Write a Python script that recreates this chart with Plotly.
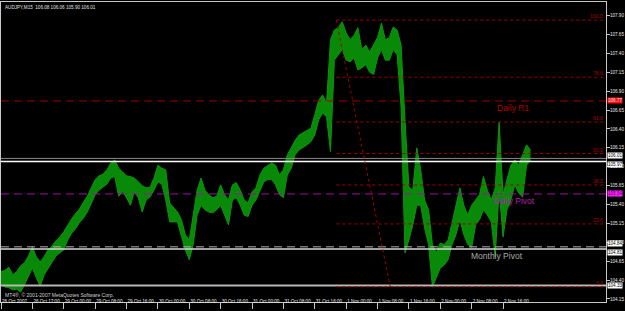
import plotly.graph_objects as go

# ---------------- data ----------------
# hourly high / low of AUDJPY (M15 chart, 4 bars per value)
high = [104.51,104.53,104.57,104.47,104.51,104.59,104.63,104.72,104.84,104.71,
        104.64,104.71,104.80,104.85,104.92,104.97,105.04,105.13,105.21,105.28,
        105.34,105.43,105.51,105.62,105.73,105.78,105.80,105.86,105.95,105.99,
        105.88,105.83,105.78,105.77,105.75,105.70,105.65,105.62,105.63,105.75,
        105.92,105.88,105.86,105.42,105.36,105.30,105.20,105.00,104.93,105.26,
        105.59,105.75,105.59,105.53,105.49,105.51,105.66,105.53,105.46,105.66,
        105.69,105.59,105.46,105.42,105.57,105.62,105.79,105.88,105.92,105.95,
        105.92,105.79,105.86,106.06,106.15,106.25,106.32,106.35,106.39,106.41,
        106.59,106.78,106.85,106.74,107.58,107.71,107.74,107.82,107.67,107.58,
        107.64,107.74,107.45,107.51,107.42,107.51,107.61,107.80,107.58,107.61,
        107.75,107.71,107.51,106.52,105.63,105.59,106.15,105.86,105.46,105.33,
        104.87,104.76,104.89,104.87,104.93,105.16,105.39,105.62,105.39,105.26,
        105.39,105.46,105.53,105.77,105.59,105.46,105.62,106.49,105.53,105.73,
        105.92,105.99,105.92,106.06,106.19,106.12]
low = [104.34,104.31,104.30,104.27,104.28,104.24,104.34,104.46,104.56,104.43,
       104.32,104.47,104.56,104.64,104.72,104.76,104.80,104.93,105.02,105.08,
       105.16,105.22,105.30,105.41,105.53,105.59,105.63,105.67,105.75,105.77,
       105.51,105.57,105.49,105.39,105.57,105.49,105.30,105.46,105.50,105.59,
       105.70,105.67,105.46,105.17,105.17,105.17,104.98,104.80,104.67,104.87,
       105.26,105.39,105.33,105.30,105.29,105.33,105.39,105.26,105.13,105.46,
       105.49,105.39,105.26,105.24,105.39,105.46,105.57,105.70,105.73,105.73,
       105.66,105.53,105.49,105.79,105.88,106.06,106.12,106.15,106.19,106.23,
       106.32,106.52,106.61,106.56,106.10,107.31,107.38,107.45,107.31,107.29,
       107.34,107.18,107.21,107.25,107.15,107.12,107.34,107.45,107.31,107.31,
       107.45,107.38,106.69,104.76,104.93,105.13,105.39,105.39,105.09,104.87,
       104.31,104.43,104.56,104.60,104.67,104.87,105.00,105.20,105.00,104.87,
       104.83,105.13,105.20,105.33,105.26,105.17,104.71,105.59,104.97,105.33,
       105.46,105.66,105.55,105.50,105.92,105.99]

time_labels = ["26 Oct 2007", "26 Oct 17:00", "29 Oct 00:00", "29 Oct 08:00",
               "29 Oct 16:00", "30 Oct 00:00", "30 Oct 08:00", "30 Oct 16:00",
               "31 Oct 00:00", "31 Oct 08:00", "31 Oct 16:00", "1 Nov 00:00",
               "1 Nov 08:00", "1 Nov 16:00", "2 Nov 00:00", "2 Nov 08:00",
               "2 Nov 16:00"]
price_ticks = [104.15, 104.40, 104.65, 104.90, 105.15, 105.40, 105.65, 105.90,
               106.15, 106.40, 106.65, 106.90, 107.15, 107.40, 107.65, 107.90]

daily_r1 = 106.77
daily_pivot = 105.54
bid_price = 106.01
white_level = 105.97
monthly_pivot = 104.84
monthly_level2 = 104.81
low_level = 104.33

fib_high = 107.84
fib_low = 104.31
fib_levels = [0.0, 23.6, 38.2, 50.0, 61.8, 78.6, 100.0]
fib_start_bar = 342
fib_end_bar = 397

title_text = "AUDJPY,M15  106.08 106.06 105.90 106.01"
copyright_text = "MT4®, © 2001-2007 MetaQuotes Software Corp."

# ---------------- figure ----------------
BARS_PER_VALUE = 4
BARS_PER_TICK = 32
XMAX = 617
xs = [i * BARS_PER_VALUE for i in range(len(high))]
GREEN = "#0a960a"
DARKRED = "#a00000"
AXIS = "#c8c8c8"
FONT = "Liberation Sans"
SMALL = 4.6

fig = go.Figure()
fig.add_trace(go.Scatter(x=xs, y=low, mode="lines", line=dict(color=GREEN, width=1),
                         hoverinfo="skip"))
fig.add_trace(go.Scatter(x=xs, y=high, mode="lines", line=dict(color=GREEN, width=1),
                         fill="tonexty", fillcolor="#088a08", hoverinfo="skip"))

shapes = []
def hline(y, color, dash="solid", width=1):
    shapes.append(dict(type="line", xref="paper", x0=0, x1=1, yref="y", y0=y, y1=y,
                       line=dict(color=color, width=width, dash=dash), layer="above"))

hline(daily_r1, "#9a0000", "8px,5px")
hline(daily_pivot, "#a010a0", "8px,5px")
hline(bid_price, "#8a8a8a", "solid", 1)
hline(white_level, "#ffffff", "solid", 1.5)
hline(monthly_pivot, "#b0b0b0", "8px,5px")
hline(monthly_level2, "#d8d8d8", "solid", 1.5)
hline(low_level, "#b8b8b8", "solid", 2)

annotations = []
for lv in fib_levels:
    yv = fib_low + (fib_high - fib_low) * lv / 100.0
    shapes.append(dict(type="line", xref="x", x0=fib_start_bar, x1=XMAX, yref="y",
                       y0=yv, y1=yv, line=dict(color=DARKRED, width=1, dash="dot")))
    annotations.append(dict(xref="paper", x=1, xanchor="right", yref="y", y=yv,
                            yanchor="bottom", text="%.1f" % lv, showarrow=False,
                            font=dict(size=5, color="#b00000", family=FONT),
                            xshift=-1, yshift=-1))
shapes.append(dict(type="line", xref="x", yref="y", x0=fib_start_bar, y0=fib_high,
                   x1=fib_end_bar, y1=fib_low,
                   line=dict(color=DARKRED, width=1, dash="dot")))

# text objects
annotations.append(dict(xref="x", x=504, yref="y", y=daily_r1, xanchor="left",
                        yanchor="top", text="Daily R1", showarrow=False,
                        font=dict(size=8.5, color="#b00000", family=FONT)))
annotations.append(dict(xref="x", x=501, yref="y", y=daily_pivot, xanchor="left",
                        yanchor="top", text="Daily Pivot", showarrow=False,
                        font=dict(size=8.5, color="#b020b0", family=FONT)))
annotations.append(dict(xref="x", x=477, yref="y", y=monthly_level2, xanchor="left",
                        yanchor="top", text="Monthly Pivot", showarrow=False,
                        font=dict(size=8.5, color="#a8a8a8", family=FONT)))

# price boxes on the right scale
def pbox(y, bg, fg, yshift=0):
    annotations.append(dict(xref="paper", x=1, xanchor="left", xshift=1, yref="y", y=y,
                            yanchor="middle", yshift=yshift, text="%.2f" % y,
                            showarrow=False, bgcolor=bg, borderpad=0,
                            font=dict(size=SMALL, color=fg, family=FONT)))
pbox(daily_r1, "#ff1010", "#ffe0e0")
pbox(daily_pivot, "#ff20ff", "#600060")
pbox(bid_price, "#ffffff", "#000000", 3)
pbox(white_level, "#ffffff", "#000000", -3)
pbox(monthly_pivot, "#ffffff", "#000000", 3)
pbox(monthly_level2, "#ffffff", "#000000", -3)
pbox(low_level, "#ffffff", "#000000")

annotations.append(dict(xref="paper", x=0, xanchor="left", xshift=2, yref="paper", y=1,
                        yanchor="top", yshift=-1, text=title_text, showarrow=False,
                        font=dict(size=SMALL, color="#e0e0e0", family=FONT)))
annotations.append(dict(xref="paper", x=0, xanchor="left", xshift=2, yref="paper", y=0,
                        yanchor="bottom", yshift=2, text=copyright_text, showarrow=False,
                        font=dict(size=5, color="#d0d0d0", family=FONT)))

fig.update_layout(
    width=625, height=311,
    margin=dict(l=1, r=19, t=2, b=9, pad=0),
    paper_bgcolor="#000000", plot_bgcolor="#000000",
    showlegend=False,
    shapes=shapes, annotations=annotations,
    font=dict(family=FONT, color="#e0e0e0"),
    xaxis=dict(range=[0, XMAX], tickvals=[k * BARS_PER_TICK for k in range(len(time_labels))],
               ticktext=time_labels, ticklabelposition="outside right", tickangle=0,
               ticks="outside", ticklen=6, tickcolor=AXIS, tickwidth=1,
               ticklabelstandoff=-6,
               tickfont=dict(size=SMALL, color="#e8e8e8", family=FONT),
               showgrid=False, zeroline=False, showline=True, linecolor=AXIS,
               linewidth=1, mirror=True, automargin=False, fixedrange=True),
    yaxis=dict(range=[104.11, 108.08], side="right", tickvals=price_ticks,
               ticktext=["%.2f" % v for v in price_ticks],
               ticks="outside", ticklen=3, tickcolor=AXIS, tickwidth=1,
               ticklabelstandoff=-1,
               tickfont=dict(size=SMALL, color="#e8e8e8", family=FONT),
               showgrid=False, zeroline=False, showline=True, linecolor=AXIS,
               linewidth=1, mirror=True, automargin=False, fixedrange=True),
)

fig.write_html("out.html", config={"displayModeBar": False})
